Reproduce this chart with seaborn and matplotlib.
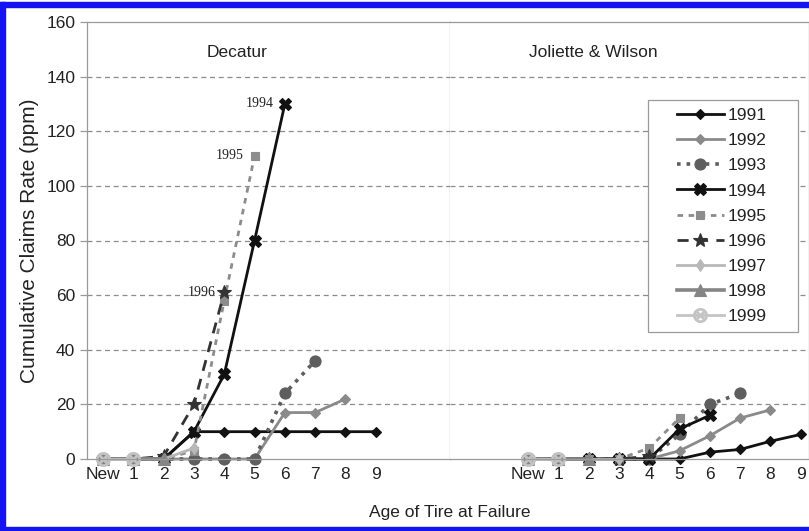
import numpy as np
import pandas as pd
import matplotlib
matplotlib.use('Agg')
import matplotlib.pyplot as plt
import seaborn as sns
from matplotlib.patches import Rectangle

# ages shown on the x axis
ages = ['New', '1', '2', '3', '4', '5', '6', '7', '8', '9']
years = ['1991', '1992', '1993', '1994', '1995', '1996', '1997', '1998', '1999']

# cumulative claims rate (ppm) by tire age, Decatur plant
decatur = {
    '1991': [0, 0, 0, 10, 10, 10, 10, 10, 10, 10],
    '1992': [0, 0, 0, 0, 0, 0, 17, 17, 22],
    '1993': [0, 0, 0, 0, 0, 0, 24, 36],
    '1994': [0, 0, 0, 10, 31, 80, 130],
    '1995': [0, 0, 0, 3, 58, 111],
    '1996': [0, 0, 1, 20, 61],
    '1997': [0, 0, 0, 4],
    '1998': [0, 0, 0],
    '1999': [0, 0],
}

# Joliette & Wilson plants
joliette = {
    '1991': [0, 0, 0, 0, 0, 0, 2.5, 3.5, 6.5, 9],
    '1992': [0, 0, 0, 0, 0, 3, 8.5, 15, 18],
    '1993': [0, 0, 0, 0, 0, 9, 20, 24],
    '1994': [0, 0, 0, 0, 0, 11, 16],
    '1995': [0, 0, 0, 0, 4, 15],
    '1996': [0, 0, 0, 0, 1],
    '1997': [0, 0, 0, 0],
    '1998': [0, 0, 0],
    '1999': [0, 0],
}

# line styles per model year
styles = {
    '1991': dict(color='#111111', marker='D', markersize=5, linestyle='-', linewidth=2),
    '1992': dict(color='#8a8a8a', marker='D', markersize=5, linestyle='-', linewidth=2),
    '1993': dict(color='#5e5e5e', marker='o', markersize=8, linestyle=':', linewidth=2.6),
    '1994': dict(color='#111111', marker='X', markersize=8, linestyle='-', linewidth=2),
    '1995': dict(color='#8c8c8c', marker='s', markersize=6, dashes=(2, 2), linewidth=2),
    '1996': dict(color='#333333', marker='*', markersize=10, dashes=(4, 3), linewidth=2),
    '1997': dict(color='#b8b8b8', marker='d', markersize=6, linestyle='-', linewidth=2),
    '1998': dict(color='#858585', marker='^', markersize=8, linestyle='-', linewidth=2.6),
    '1999': dict(color='#c4c4c4', marker=r'$\otimes$', markersize=10, linestyle='-', linewidth=2),
}

plt.rcParams['font.family'] = ['Liberation Sans', 'DejaVu Sans']

fig = plt.figure(figsize=(8.09, 5.31), dpi=100)
ax1 = fig.add_axes([87 / 809, 1 - 459 / 531, 363 / 809, 437 / 531])
ax2 = fig.add_axes([450 / 809, 1 - 459 / 531, 359 / 809, 437 / 531], sharey=ax1)

for ax, data in [(ax1, decatur), (ax2, joliette)]:
    for yr in years:
        vals = data[yr]
        sns.lineplot(x=np.arange(len(vals)), y=vals, ax=ax, label=yr,
                     clip_on=False, markeredgewidth=0.8,
                     markeredgecolor=styles[yr]['color'], **styles[yr])
    if ax.get_legend() is not None:
        ax.get_legend().remove()
    ax.set_ylim(0, 160)
    ax.set_yticks(np.arange(0, 161, 20))
    for g in range(20, 160, 20):
        ax.axhline(g, color='#8c8c8c', linestyle=(0, (4, 3)), linewidth=0.9, zorder=0)
    ax.set_xticks(np.arange(len(ages)))
    ax.set_xticklabels(ages, fontsize=12.5, color='#222222')
    ax.tick_params(axis='x', length=0, pad=6)
    for s in ax.spines.values():
        s.set_color('#9a9a9a')
        s.set_linewidth(0.9)
    ax.set_xlabel('')
    ax.set_ylabel('')

ax1.set_xlim(-0.53, 11.45)
ax2.set_xlim(-2.57, 9.27)
ax1.tick_params(axis='y', labelsize=12.5, labelcolor='#222222', color='#9a9a9a',
                length=5, width=0.9)
ax2.tick_params(axis='y', left=False, labelleft=False)
ax2.spines['left'].set_visible(False)

ax1.set_ylabel('Cumulative Claims Rate (ppm)', fontsize=15, color='#222222', labelpad=5)
fig.text(450 / 809, 1 - 512 / 531, 'Age of Tire at Failure', ha='center', va='center',
         fontsize=12.5, color='#222222')

ax1.text(0.413, 0.931, 'Decatur', transform=ax1.transAxes, ha='center', va='center',
         fontsize=12.5, color='#222222')
ax2.text(0.40, 0.931, 'Joliette & Wilson', transform=ax2.transAxes, ha='center',
         va='center', fontsize=12.5, color='#222222')

# labels on the Decatur peaks
for yr, off in [('1994', -8), ('1995', -8), ('1996', -6)]:
    vals = decatur[yr]
    ax1.annotate(yr, (len(vals) - 1, vals[-1]), xytext=(off, 0), textcoords='offset points',
                 ha='right', va='center', fontsize=10, family='Liberation Serif',
                 color='#222222')

# legend box drawn by hand (wide left margin as in the original)
fig.patches.append(Rectangle((648 / 809, 1 - 332 / 531), 150 / 809, 232 / 531,
                             transform=fig.transFigure, facecolor='white',
                             edgecolor='#9a9a9a', linewidth=0.9, zorder=4))
handles, labels = ax1.get_legend_handles_labels()
leg = fig.legend(handles, labels, loc='center left', bbox_to_anchor=(677 / 809, 1 - 216 / 531),
                 fontsize=12.5, handlelength=2.7, labelspacing=0.57, borderpad=0,
                 borderaxespad=0, handletextpad=0.2, frameon=False)
leg.set_zorder(6)
for t in leg.get_texts():
    t.set_color('#222222')

# blue frame around the picture
blue = '#1414f0'
fig.patches.append(Rectangle((0, 1 - 7 / 531), 1, 5 / 531, transform=fig.transFigure,
                             color=blue, zorder=10))
fig.patches.append(Rectangle((0, 0), 1, 4 / 531, transform=fig.transFigure,
                             color=blue, zorder=10))
fig.patches.append(Rectangle((0, 0), 5 / 809, 1 - 2 / 531, transform=fig.transFigure,
                             color=blue, zorder=10))

fig.savefig('out.png', dpi=100)
